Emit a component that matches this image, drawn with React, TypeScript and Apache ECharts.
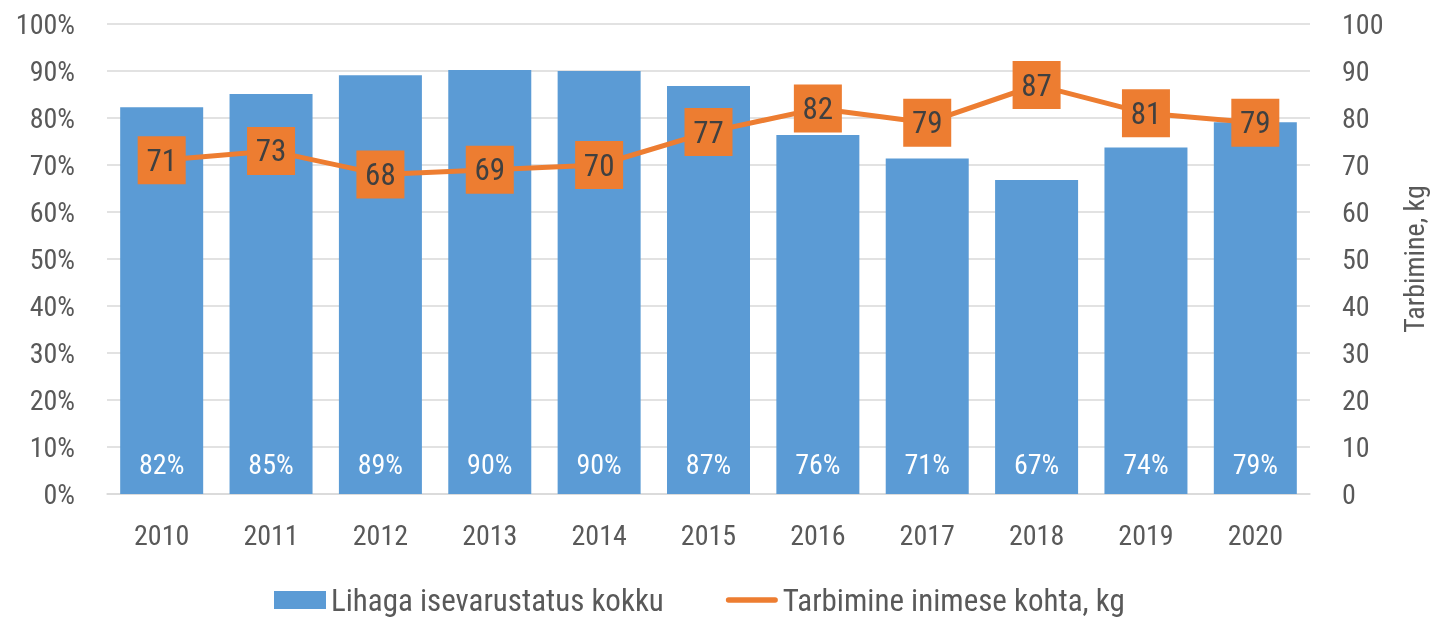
import React, { useEffect, useRef } from "react";
import * as echarts from "echarts";

const categories = ["2010", "2011", "2012", "2013", "2014", "2015", "2016", "2017", "2018", "2019", "2020"];
const selfSufficiency = [82.3, 85.1, 89.1, 90.2, 90.0, 86.8, 76.4, 71.4, 66.8, 73.7, 79.1];
const consumption = [71, 73, 68, 69, 70, 77, 82, 79, 87, 81, 79];
const barName = "Lihaga isevarustatus kokku";
const lineName = "Tarbimine inimese kohta, kg";
const rightAxisName = "Tarbimine, kg";

const FONT = "'Liberation Sans Narrow', 'Roboto Condensed', Roboto, sans-serif";
const GREY = "#595959";
const FS = 28;

export default function App() {
  const ref = useRef<HTMLDivElement>(null);
  useEffect(() => {
    if (!ref.current) return;
    const chart = echarts.init(ref.current, undefined, { renderer: "svg" });
    chart.setOption({
      animation: false,
      textStyle: { fontFamily: FONT },
      grid: { left: 107, right: 128, top: 24, bottom: 128 },
      legend: {
        top: 583,
        left: 274,
        padding: 0,
        itemGap: 62,
        itemWidth: 52,
        itemHeight: 18,
        textStyle: { fontSize: 31, lineHeight: 34, color: GREY, fontFamily: FONT },
        data: [
          { name: barName, icon: "rect" },
          { name: lineName, icon: "path://M3,0 H53 A3,3 0 0 1 53,6 H3 A3,3 0 0 1 3,0 Z" },
        ],
      },
      xAxis: {
        type: "category",
        data: categories,
        axisLine: { lineStyle: { color: "#d9d9d9", width: 1.5 } },
        axisTick: { show: false },
        axisLabel: { fontSize: FS, color: GREY, margin: 27, fontFamily: FONT },
      },
      yAxis: [
        {
          type: "value",
          min: 0,
          max: 100,
          interval: 10,
          axisLabel: { fontSize: FS, color: GREY, margin: 32, formatter: "{value}%", fontFamily: FONT },
          axisLine: { show: false },
          axisTick: { show: false },
          splitLine: { lineStyle: { color: "#d9d9d9", width: 1.5 } },
        },
        {
          type: "value",
          min: 0,
          max: 100,
          interval: 10,
          position: "right",
          name: rightAxisName,
          nameLocation: "middle",
          nameRotate: 90,
          nameGap: 90,
          nameTextStyle: { fontSize: FS, color: GREY, fontFamily: FONT },
          axisLabel: { fontSize: FS, color: GREY, margin: 32, fontFamily: FONT },
          axisLine: { show: false },
          axisTick: { show: false },
          splitLine: { show: false },
        },
      ],
      series: [
        {
          name: barName,
          type: "bar",
          data: selfSufficiency,
          barWidth: 83,
          itemStyle: { color: "#5B9BD5" },
          label: {
            show: true,
            position: "insideBottom",
            distance: 16,
            color: "#ffffff",
            fontSize: FS,
            fontFamily: FONT,
            formatter: (p: any) => Math.round(p.value) + "%",
          },
        },
        {
          name: lineName,
          type: "line",
          yAxisIndex: 1,
          data: consumption,
          symbol: "rect",
          symbolSize: 48,
          lineStyle: { color: "#ED7D31", width: 5 },
          itemStyle: { color: "#ED7D31" },
          label: {
            show: true,
            position: "inside",
            color: "#404040",
            fontSize: 31,
            fontFamily: FONT,
          },
        },
      ],
    });
    return () => chart.dispose();
  }, []);
  return <div ref={ref} style={{ position: "fixed", left: 0, top: 0, width: 1438, height: 622 }} />;
}
